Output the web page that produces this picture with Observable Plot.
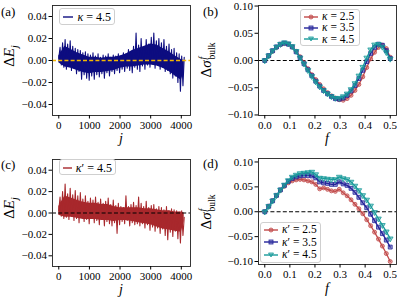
<!DOCTYPE html>
<html><head><meta charset="utf-8">
<script src="https://cdn.jsdelivr.net/npm/d3@7"></script>
<script src="https://cdn.jsdelivr.net/npm/@observablehq/plot@0.6"></script>
<style>
body{margin:0;background:#fff;}
#fig{position:relative;width:397px;height:297px;font-family:"Liberation Serif",serif;color:#000;overflow:hidden;}
.lab{position:absolute;white-space:nowrap;line-height:1;}
.rot{transform:translate(-50%,-50%) rotate(-90deg);}
.ctr{transform:translate(-50%,-50%);}
.leg{position:absolute;border:1px solid #cfcfcf;border-radius:3px;background:rgba(255,255,255,0.85);box-sizing:border-box;padding:1px 3px;}
.row{display:flex;align-items:center;white-space:nowrap;line-height:1;overflow:visible;}
.stack{display:inline-flex;flex-direction:column;vertical-align:middle;line-height:0.9;margin-left:1px;}
</style></head><body><div id="fig"></div>
<script>
// ---------- data ----------
// panel (a): kappa = 4.5, Delta E_j vs j (sampled zig-zag read from the picture)
const dEa = [0.002,0.012,-0.004,0.016,-0.006,0.019,-0.008,0.015,-0.005,0.018,
-0.009,0.013,-0.007,0.011,-0.012,0.010,-0.010,0.009,-0.017,0.007,
-0.013,0.008,-0.016,0.006,-0.018,0.005,-0.014,0.007,-0.017,0.004,
-0.013,0.006,-0.015,0.003,-0.012,0.005,-0.016,0.004,-0.011,0.006,
-0.014,0.003,-0.010,0.005,-0.012,0.004,-0.009,0.006,-0.011,0.004,
-0.008,0.007,-0.010,0.006,-0.007,0.010,-0.009,0.008,-0.011,0.013,
-0.006,0.025,-0.008,0.014,-0.010,0.020,-0.005,0.012,-0.008,0.019,
-0.004,0.015,-0.006,0.021,-0.003,0.025,-0.007,0.018,-0.004,0.020,
-0.008,0.016,-0.006,0.019,-0.010,0.013,-0.009,0.015,-0.012,0.010,
-0.016,0.011,-0.014,0.007,-0.020,0.006,-0.028,0.004,-0.023,0.003];
// dense body of panel (a): j, lower, upper
const bodyJ = [0,200,400,600,800,1000,1200,1400,1600,1800,2000,2200,2400,2600,2800,3000,3200,3400,3600,3800,4000,4095];
const bodyALo = [-0.002,-0.006,-0.007,-0.009,-0.011,-0.012,-0.011,-0.011,-0.010,-0.009,-0.007,-0.006,-0.006,-0.005,-0.004,-0.004,-0.005,-0.007,-0.010,-0.014,-0.018,-0.010];
const bodyAHi = [0.004,0.013,0.010,0.007,0.005,0.003,0.003,0.002,0.003,0.003,0.004,0.006,0.009,0.011,0.013,0.015,0.014,0.011,0.008,0.004,0.001,0.000];
// panel (c): kappa' = 4.5
const dEc = [0.002,0.015,-0.003,0.020,-0.005,0.027,-0.004,0.018,-0.006,0.023,
-0.003,0.017,-0.007,0.021,-0.005,0.016,-0.009,0.019,-0.004,0.013,
-0.008,0.016,-0.006,0.011,-0.010,0.014,-0.005,0.012,-0.009,0.015,
-0.007,0.010,-0.011,0.013,-0.006,0.009,-0.012,0.011,-0.008,0.014,
-0.010,0.008,-0.012,0.012,-0.009,0.007,-0.019,0.009,-0.011,0.006,
-0.008,0.005,-0.010,0.016,-0.007,0.006,-0.012,0.008,-0.009,0.010,
-0.011,0.007,-0.010,0.015,-0.012,0.009,-0.010,0.006,-0.014,0.011,
-0.011,0.005,-0.016,0.007,-0.013,0.008,-0.017,0.004,-0.014,0.006,
-0.019,0.005,-0.015,0.003,-0.021,0.006,-0.025,0.002,-0.018,0.004,
-0.022,0.003,-0.017,0.002,-0.024,0.001,-0.028,0.002,-0.021,-0.004];
const bodyCLo = [-0.002,-0.004,-0.004,-0.005,-0.006,-0.006,-0.006,-0.007,-0.007,-0.008,-0.007,-0.007,-0.008,-0.009,-0.010,-0.011,-0.013,-0.015,-0.016,-0.017,-0.018,-0.008];
const bodyCHi = [0.006,0.016,0.014,0.012,0.010,0.009,0.009,0.008,0.008,0.006,0.005,0.005,0.005,0.005,0.004,0.004,0.003,0.002,0.002,0.001,0.001,0.000];
const jLast = 4095;

const fVals = [0,0.015625,0.03125,0.046875,0.0625,0.078125,0.09375,0.109375,0.125,0.140625,
0.15625,0.171875,0.1875,0.203125,0.21875,0.234375,0.25,0.265625,0.28125,0.296875,
0.3125,0.328125,0.34375,0.359375,0.375,0.390625,0.40625,0.421875,0.4375,0.453125,
0.46875,0.484375,0.5];
// panel (b)
const sB25 = [0,0.008,0.017,0.024,0.029,0.031,0.030,0.025,0.017,0.007,-0.004,-0.015,-0.026,-0.035,-0.044,-0.052,-0.059,-0.065,-0.069,-0.072,-0.073,-0.070,-0.064,-0.055,-0.044,-0.030,-0.013,0.003,0.015,0.024,0.028,0.022,0.006];
const sB35 = [0,0.009,0.018,0.025,0.030,0.032,0.030,0.025,0.016,0.005,-0.006,-0.017,-0.028,-0.038,-0.047,-0.055,-0.061,-0.066,-0.070,-0.071,-0.069,-0.064,-0.056,-0.046,-0.033,-0.018,-0.002,0.013,0.024,0.030,0.028,0.018,0.004];
const sB45 = [0,0.009,0.018,0.025,0.030,0.033,0.031,0.026,0.017,0.005,-0.006,-0.018,-0.029,-0.039,-0.048,-0.055,-0.061,-0.066,-0.069,-0.069,-0.066,-0.061,-0.053,-0.042,-0.028,-0.012,0.005,0.020,0.029,0.030,0.025,0.015,0.003];
// panel (d)
const sD25 = [0,0.011,0.022,0.032,0.043,0.051,0.058,0.062,0.064,0.065,0.064,0.062,0.060,0.055,0.046,0.048,0.045,0.042,0.041,0.045,0.038,0.032,0.024,0.015,0.006,-0.004,-0.016,-0.028,-0.041,-0.055,-0.069,-0.084,-0.100];
const sD35 = [0,0.011,0.022,0.033,0.044,0.053,0.061,0.067,0.070,0.072,0.073,0.073,0.072,0.068,0.060,0.058,0.057,0.055,0.055,0.060,0.056,0.053,0.047,0.039,0.029,0.018,0.008,-0.005,-0.018,-0.031,-0.044,-0.057,-0.071];
const sD45 = [0,0.011,0.022,0.033,0.044,0.054,0.063,0.070,0.074,0.077,0.078,0.079,0.080,0.075,0.068,0.067,0.066,0.065,0.065,0.070,0.067,0.065,0.060,0.052,0.043,0.033,0.024,0.012,-0.001,-0.014,-0.027,-0.040,-0.054];

const jTicks = [0,1000,2000,3000,4000];
const eTicks = [-0.04,-0.02,0,0.02,0.04];
const fTicks = [0,0.1,0.2,0.3,0.4,0.5];
const sTicks = [-0.10,-0.05,0,0.05,0.10];
const kappas = ["2.5","3.5","4.5"];

// ---------- styles ----------
const cRed = "#c24a4a", cBlue = "#23239a", cTeal = "#189a9a";
const cNavy = "#0d0d80", cDarkRed = "#a8282c", cGold = "#f5b800";

const fig = document.getElementById("fig");
const tbl = arr => arr.map((v, i) => ({j: i * jLast / (arr.length - 1), v}));
const btbl = (lo, hi) => bodyJ.map((j, i) => ({j, lo: lo[i], hi: hi[i]}));
const ftbl = arr => arr.map((v, i) => ({f: fVals[i], v}));

function panel({left, top, W, H, fr, xDomain, yDomain, xTicks, yTicks, xFmt, yFmt, marks}) {
  const svg = Plot.plot({
    width: W, height: H,
    marginLeft: fr[0], marginTop: fr[1], marginRight: W - fr[2], marginBottom: H - fr[3],
    x: {domain: xDomain}, y: {domain: yDomain},
    style: {fontFamily: "'Liberation Serif', serif", fontSize: "11px", background: "transparent", color: "#000", overflow: "visible"},
    marks: [
      ...marks,
      Plot.frame({stroke: "#222", strokeWidth: 0.9}),
      Plot.axisX({ticks: xTicks, tickFormat: xFmt, tickSize: 3.5, tickPadding: 2, label: null, fontSize: 11}),
      Plot.axisY({ticks: yTicks, tickFormat: yFmt, tickSize: 3.5, tickPadding: 2, label: null, fontSize: 11})
    ]
  });
  svg.style.position = "absolute"; svg.style.left = left + "px"; svg.style.top = top + "px";
  fig.appendChild(svg);
}
const f2 = d3.format(".2f"), f1 = d3.format(".1f"), fd = d3.format("d");

function series(arr, color, symbol, rot, r) {
  return [
    Plot.line(ftbl(arr), {x: "f", y: "v", stroke: color, strokeWidth: 1.3}),
    Plot.dot(ftbl(arr), {x: "f", y: "v", symbol, rotate: rot, r, stroke: color, strokeWidth: 0.8, fill: color, fillOpacity: 0.45})
  ];
}

// (a)
panel({left: 0, top: 0, W: 198, H: 148, fr: [52, 5, 190, 115],
  xDomain: [-205, 4300], yDomain: [-0.05, 0.05], xTicks: jTicks, yTicks: eTicks, xFmt: fd, yFmt: f2,
  marks: [
    Plot.areaY(btbl(bodyALo, bodyAHi), {x: "j", y1: "lo", y2: "hi", fill: cNavy}),
    Plot.line(tbl(dEa), {x: "j", y: "v", stroke: cNavy, strokeWidth: 1.1}),
    Plot.ruleY([0], {stroke: cGold, strokeWidth: 1.3, strokeDasharray: "4,2.2"})
  ]});
// (b)
panel({left: 198, top: 0, W: 199, H: 148, fr: [60, 5, 198, 115],
  xDomain: [-0.025, 0.525], yDomain: [-0.101, 0.101], xTicks: fTicks, yTicks: sTicks, xFmt: f1, yFmt: f2,
  marks: [
    Plot.ruleY([0], {stroke: "#000", strokeWidth: 1.1, strokeDasharray: "4,2.2"}),
    ...series(sB25, cRed, "circle", 0, 2),
    ...series(sB35, cBlue, "square", 0, 2.2),
    ...series(sB45, cTeal, "triangle", 180, 2.1)
  ]});
// (c)
panel({left: 0, top: 148, W: 198, H: 149, fr: [52, 11, 190, 118],
  xDomain: [-205, 4300], yDomain: [-0.05, 0.05], xTicks: jTicks, yTicks: eTicks, xFmt: fd, yFmt: f2,
  marks: [
    Plot.areaY(btbl(bodyCLo, bodyCHi), {x: "j", y1: "lo", y2: "hi", fill: cDarkRed}),
    Plot.line(tbl(dEc), {x: "j", y: "v", stroke: cDarkRed, strokeWidth: 1.1}),
    Plot.ruleY([0], {stroke: "#000", strokeWidth: 1.1, strokeDasharray: "4,2.2"})
  ]});
// (d)
panel({left: 198, top: 148, W: 199, H: 149, fr: [60, 10, 198, 116],
  xDomain: [-0.025, 0.525], yDomain: [-0.106, 0.107], xTicks: fTicks, yTicks: sTicks, xFmt: f1, yFmt: f2,
  marks: [
    Plot.ruleY([0], {stroke: "#000", strokeWidth: 1.1, strokeDasharray: "4,2.2"}),
    ...series(sD25, cRed, "circle", 0, 2),
    ...series(sD35, cBlue, "square", 0, 2.2),
    ...series(sD45, cTeal, "triangle", 180, 2.1)
  ]});

// ---------- text overlays ----------
function lab(html, x, y, size, cls) {
  const d = document.createElement("div");
  d.className = "lab " + (cls || "");
  d.style.left = x + "px"; d.style.top = y + "px"; d.style.fontSize = size + "px";
  d.innerHTML = html;
  fig.appendChild(d);
}
lab("(a)", 1, 5, 13);
lab("(b)", 203, 5, 13);
lab("(c)", 1, 158, 13);
lab("(d)", 203, 157, 13);
const dE = "Δ<i>E</i><sub style='font-size:10px'><i>j</i></sub>";
const dS = "Δ<i>σ</i><span class='stack' style='font-size:9.5px'><i>f</i><span>bulk</span></span>";
lab(dE, 11, 56, 15, "rot");
lab(dE, 11, 208, 15, "rot");
lab(dS, 208, 60, 15, "rot");
lab(dS, 208, 212, 15, "rot");
lab("<i>j</i>", 121, 139, 14, "ctr");
lab("<i>j</i>", 121, 290, 14, "ctr");
lab("<i>f</i>", 327, 139, 14, "ctr");
lab("<i>f</i>", 327, 289, 14, "ctr");

function marker(sym, color) {
  if (sym === "circle") return `<circle cx="7" cy="5" r="2" fill="${color}" fill-opacity="0.45" stroke="${color}" stroke-width="0.8"/>`;
  if (sym === "square") return `<rect x="5" y="3" width="4" height="4" fill="${color}" fill-opacity="0.45" stroke="${color}" stroke-width="0.8"/>`;
  if (sym === "tri") return `<path d="M4.5,3 L9.5,3 L7,7 Z" fill="${color}" fill-opacity="0.45" stroke="${color}" stroke-width="0.8"/>`;
  return "";
}
function legend(x, y, w, h, rows, fs, rowH) {
  const d = document.createElement("div");
  d.className = "leg";
  d.style.left = x + "px"; d.style.top = y + "px"; d.style.width = w + "px"; d.style.height = h + "px";
  d.innerHTML = rows.map(r => `<div class="row" style="height:${rowH}px;font-size:${fs}px"><svg width="14" height="10" style="margin-right:4px"><line x1="0" y1="5" x2="14" y2="5" stroke="${r.color}" stroke-width="1.4"/>${marker(r.sym, r.color)}</svg><span>${r.label}</span></div>`).join("");
  fig.appendChild(d);
}
const kl = (p, v) => `<i>κ</i>${p} = ${v}`;
legend(59, 8, 56, 17, [{color: cNavy, sym: "", label: kl("", "4.5")}], 12, 14);
legend(59, 159, 57, 16, [{color: cDarkRed, sym: "", label: kl("′", "4.5")}], 12, 13);
legend(300, 9, 60, 37, [
  {color: cRed, sym: "circle", label: kl("", kappas[0])},
  {color: cBlue, sym: "square", label: kl("", kappas[1])},
  {color: cTeal, sym: "tri", label: kl("", kappas[2])}], 11.5, 11.3);
legend(260, 222, 61, 41, [
  {color: cRed, sym: "circle", label: kl("′", kappas[0])},
  {color: cBlue, sym: "square", label: kl("′", kappas[1])},
  {color: cTeal, sym: "tri", label: kl("′", kappas[2])}], 11.5, 12.3);
</script></body></html>
